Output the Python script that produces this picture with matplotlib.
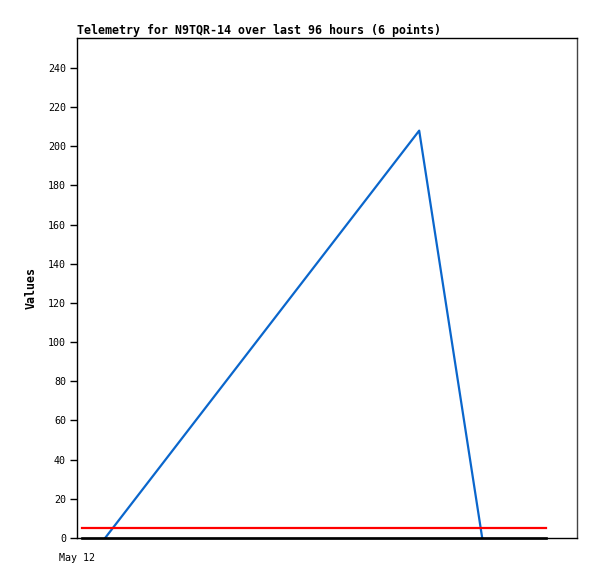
import numpy as np
import matplotlib.pyplot as plt

# hours since start of 96 h window
t_flat = [1.0, 90.0]
black_vals = [0, 0]
red_vals = [5, 5]
t_blue = [5.4, 65.7, 77.8]
blue_vals = [0, 208, 0]
yticks = np.arange(0, 241, 20)
xtick_pos = [0]
xtick_labels = ['May 12']

plt.rcParams['font.family'] = 'DejaVu Sans Mono'

fig = plt.figure(figsize=(5.97, 5.79), dpi=100)
ax = fig.add_axes([77 / 597, 41 / 579, 500 / 597, 500 / 579])

ax.plot(t_blue, blue_vals, color='#0a66cc', lw=1.6, zorder=2)
ax.plot(t_flat, red_vals, color='#ff0000', lw=1.6, zorder=3)
ax.plot(t_flat, black_vals, color='black', lw=1.9, zorder=4, clip_on=False)

ax.set_xlim(0, 96)
ax.set_ylim(0, 255.3)
ax.set_yticks(yticks)
ax.set_xticks(xtick_pos)
ax.set_xticklabels(xtick_labels)
ax.tick_params(axis='y', length=5, width=1, labelsize=7.2, pad=3)
ax.tick_params(axis='x', length=0, labelsize=7.2, pad=11)
for s in ax.spines.values():
    s.set_linewidth(1)
ax.spines['right'].set_color('#444444')

ax.set_title('Telemetry for N9TQR-14 over last 96 hours (6 points)',
             loc='left', fontsize=8.4, fontweight='heavy', pad=3)
ax.set_ylabel('Values', fontsize=8.4, fontweight='heavy', labelpad=7)

fig.savefig('out.png', dpi=100)
